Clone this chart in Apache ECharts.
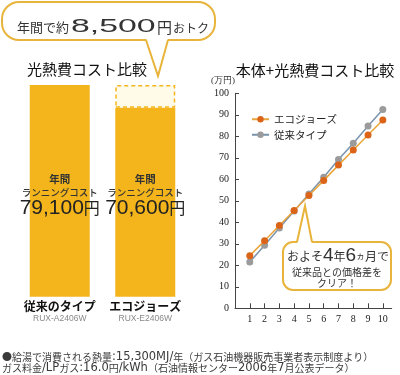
<!DOCTYPE html>
<html>
<head>
<meta charset="utf-8">
<script src="https://cdn.jsdelivr.net/npm/echarts@6/dist/echarts.min.js"></script>
<style>
html,body{margin:0;padding:0;background:#fff;}
#main{width:400px;height:375px;}
</style>
</head>
<body>
<div id="main"></div>
<script>
// ---- data ----
const categories = ['従来のタイプ', 'エコジョーズ'];
const models = ['RUX-A2406W', 'RUX-E2406W'];
const annualCost = [79100, 70600];
const saving = [null, 8500];
const years = [1, 2, 3, 4, 5, 6, 7, 8, 9, 10];
const ecoValues = [24.5, 31.4, 38.5, 45.5, 52.5, 59.5, 66.6, 73.6, 80.6, 87.6];
const convValues = [21.5, 29.3, 37.3, 45.3, 53.2, 61.0, 69.2, 76.8, 84.8, 92.5];
const seriesNames = ['エコジョーズ', '従来タイプ'];

const JP = '"Noto Sans CJK JP", "Noto Sans", sans-serif';
const SERIF = '"Liberation Serif", "DejaVu Serif", serif';
const LAT = '"DejaVu Sans", "Liberation Sans", sans-serif';
const GOLD = '#f3b51b';
const BORDER = '#e8b43c';

const chart = echarts.init(document.getElementById('main'), null, {renderer: 'canvas'});

function fmt(v) { return v.toLocaleString('en-US'); }

const footRich = {
  j: {fontSize: 10, fontFamily: JP, fill: '#3a3a3a', color: '#3a3a3a'},
  l: {fontSize: 11.5, fontFamily: LAT, fill: '#3a3a3a', color: '#3a3a3a'}
};

const option = {
  animation: false,
  backgroundColor: '#fff',
  textStyle: {fontFamily: JP},
  grid: [
    {left: 17, width: 171, top: 85, bottom: 78.3},
    {left: 235, right: 8.3, top: 93.3, bottom: 66.7}
  ],
  xAxis: [
    {
      type: 'category', gridIndex: 0, data: categories,
      axisLine: {show: false}, axisTick: {show: false},
      axisLabel: {
        margin: 3, interval: 0, hideOverlap: false,
        formatter: (v, i) => `{n|${v}}\n{m|${models[i]}}`,
        rich: {
          n: {fontSize: 12, fontWeight: 'bold', color: '#111', lineHeight: 13, fontFamily: JP},
          m: {fontSize: 8.5, color: '#888', lineHeight: 11, fontFamily: '"Liberation Sans", Arial, sans-serif'}
        }
      }
    },
    {
      type: 'value', gridIndex: 1, min: 0, max: 10.6, interval: 1,
      splitLine: {show: false},
      axisLine: {lineStyle: {color: '#444', width: 1}},
      axisTick: {inside: true, length: 5, customValues: years, lineStyle: {color: '#444'}},
      axisLabel: {customValues: years, fontFamily: SERIF, fontSize: 10, color: '#222', margin: 6}
    }
  ],
  yAxis: [
    {type: 'value', gridIndex: 0, min: 0, max: 79100, show: false, splitLine: {show: false}},
    {
      type: 'value', gridIndex: 1, min: 0, max: 100, interval: 10,
      name: '(万円)', nameLocation: 'end', nameGap: 8,
      nameTextStyle: {fontSize: 9, color: '#333', align: 'right', fontFamily: SERIF},
      splitLine: {show: false},
      axisLine: {show: true, lineStyle: {color: '#444', width: 1}},
      axisTick: {show: true, inside: true, length: 4, lineStyle: {color: '#444'}},
      axisLabel: {fontFamily: SERIF, fontSize: 10, color: '#222', margin: 6}
    }
  ],
  legend: {
    data: seriesNames,
    orient: 'vertical', left: 246, top: 109,
    itemWidth: 17, itemHeight: 8, itemGap: 5,
    textStyle: {fontSize: 10.5, color: '#222', fontFamily: JP}
  },
  series: [
    {
      type: 'bar', xAxisIndex: 0, yAxisIndex: 0, stack: 'c', barWidth: 60,
      data: annualCost,
      itemStyle: {color: GOLD},
      label: {
        show: true, position: 'insideBottom', distance: 80,
        formatter: p => `{h|年間}\n{s|ランニングコスト}\n{b|${fmt(p.value)}}{y|円}`,
        rich: {
          h: {fontSize: 10.5, color: '#333', lineHeight: 14, fontFamily: JP, fontWeight: 'bold'},
          s: {fontSize: 9.5, color: '#333', lineHeight: 14, fontFamily: JP, fontWeight: 500},
          b: {fontSize: 21, color: '#222', lineHeight: 17, fontFamily: '"Liberation Sans", Arial, sans-serif'},
          y: {fontSize: 16, color: '#222', lineHeight: 17, fontFamily: JP}
        }
      }
    },
    {
      type: 'bar', xAxisIndex: 0, yAxisIndex: 0, stack: 'c', barWidth: 60,
      data: saving,
      itemStyle: {color: '#fffbe8', borderColor: GOLD, borderWidth: 1.5, borderType: [4, 3]}
    },
    {
      type: 'line', name: seriesNames[1], xAxisIndex: 1, yAxisIndex: 1,
      data: years.map((y, i) => [y, convValues[i]]),
      symbol: 'circle', symbolSize: 7,
      lineStyle: {color: '#7a93ad', width: 1.5},
      itemStyle: {color: '#9b9b9b'}, z: 2
    },
    {
      type: 'line', name: seriesNames[0], xAxisIndex: 1, yAxisIndex: 1,
      data: years.map((y, i) => [y, ecoValues[i]]),
      symbol: 'circle', symbolSize: 7,
      lineStyle: {color: '#eaa53a', width: 1.5},
      itemStyle: {color: '#dc6418'}, z: 3
    }
  ],
  graphic: [
    // top bubble
    {type: 'rect', shape: {x: 2, y: 2, width: 213, height: 38, r: 17}, style: {fill: '#fff', stroke: BORDER, lineWidth: 2}, z: 10},
    {type: 'polygon', shape: {points: [[146, 38], [158, 76], [168, 38]]}, style: {fill: '#fff'}, z: 11},
    {type: 'polyline', shape: {points: [[146, 40], [158, 76], [168, 40]]}, style: {stroke: BORDER, lineWidth: 2, fill: null}, z: 12},
    {type: 'text', x: 17, y: 27, style: {text: '年間で約', font: '13px ' + JP, fill: '#333', align: 'left', verticalAlign: 'middle', textAlign: 'left', textVerticalAlign: 'middle'}, z: 13},
    {type: 'text', x: 71, y: 27, scaleX: 1.78, style: {text: '8,500', font: '19px "Liberation Sans", Arial, sans-serif', fill: '#333', align: 'left', verticalAlign: 'middle', textAlign: 'left', textVerticalAlign: 'middle'}, z: 13},
    {type: 'text', x: 157, y: 27, style: {text: '円', font: '15px ' + JP, fill: '#333', align: 'left', verticalAlign: 'middle', textAlign: 'left', textVerticalAlign: 'middle'}, z: 13},
    {type: 'text', x: 173, y: 28, style: {text: 'おトク', font: '12px ' + JP, fill: '#333', align: 'left', verticalAlign: 'middle', textAlign: 'left', textVerticalAlign: 'middle'}, z: 13},
    // titles
    {type: 'text', x: 87, y: 69, style: {text: '光熱費コスト比較', font: '15px ' + JP, fill: '#111', align: 'center', verticalAlign: 'middle', textAlign: 'center', textVerticalAlign: 'middle'}, z: 13},
    {type: 'text', x: 315, y: 70, style: {text: '本体+光熱費コスト比較', font: '15px ' + JP, fill: '#111', align: 'center', verticalAlign: 'middle', textAlign: 'center', textVerticalAlign: 'middle'}, z: 13},
    // right callout
    {type: 'rect', shape: {x: 283, y: 242, width: 108, height: 48, r: 10}, style: {fill: '#fff', stroke: BORDER, lineWidth: 2}, z: 10},
    {type: 'polygon', shape: {points: [[297, 244], [305, 206], [312, 244]]}, style: {fill: '#fff'}, z: 11},
    {type: 'polyline', shape: {points: [[297, 242], [305, 206], [312, 242]]}, style: {stroke: BORDER, lineWidth: 2, fill: null}, z: 12},
    {type: 'text', x: 338, y: 256, style: {
      text: '{a|およそ}{b|4}{a|年}{b|6}{c|ヵ}{a|月で}',
      align: 'center', verticalAlign: 'middle', textAlign: 'center', textVerticalAlign: 'middle',
      rich: {
        a: {fontSize: 12, fill: '#333', color: '#333', fontFamily: JP},
        b: {fontSize: 19, fill: '#333', color: '#333', fontFamily: '"Liberation Sans", Arial, sans-serif'},
        c: {fontSize: 9, fill: '#333', color: '#333', fontFamily: JP}
      }
    }, z: 13},
    {type: 'text', x: 337, y: 272, style: {text: '従来品との価格差を', font: '10px ' + JP, fill: '#333', align: 'center', verticalAlign: 'middle', textAlign: 'center', textVerticalAlign: 'middle'}, z: 13},
    {type: 'text', x: 337, y: 283.5, style: {text: 'クリア！', font: '10px ' + JP, fill: '#333', align: 'center', verticalAlign: 'middle', textAlign: 'center', textVerticalAlign: 'middle'}, z: 13},
    // footer
    {type: 'text', x: 2, y: 357, style: {
      text: '{j|●給湯で消費される熱量}{l|:15,300MJ/}{j|年（ガス石油機器販売事業者表示制度より）}',
      rich: footRich, align: 'left', verticalAlign: 'middle', textAlign: 'left', textVerticalAlign: 'middle'}, z: 13},
    {type: 'text', x: 2, y: 368, style: {
      text: '{j|ガス料金}{l|/LP}{j|ガス}{l|:16.0}{j|円}{l|/kWh}{j|（石油情報センター}{l|2006}{j|年}{l|7}{j|月公表データ）}',
      rich: footRich, align: 'left', verticalAlign: 'middle', textAlign: 'left', textVerticalAlign: 'middle'}, z: 13}
  ]
};
chart.setOption(option);
</script>
</body>
</html>
